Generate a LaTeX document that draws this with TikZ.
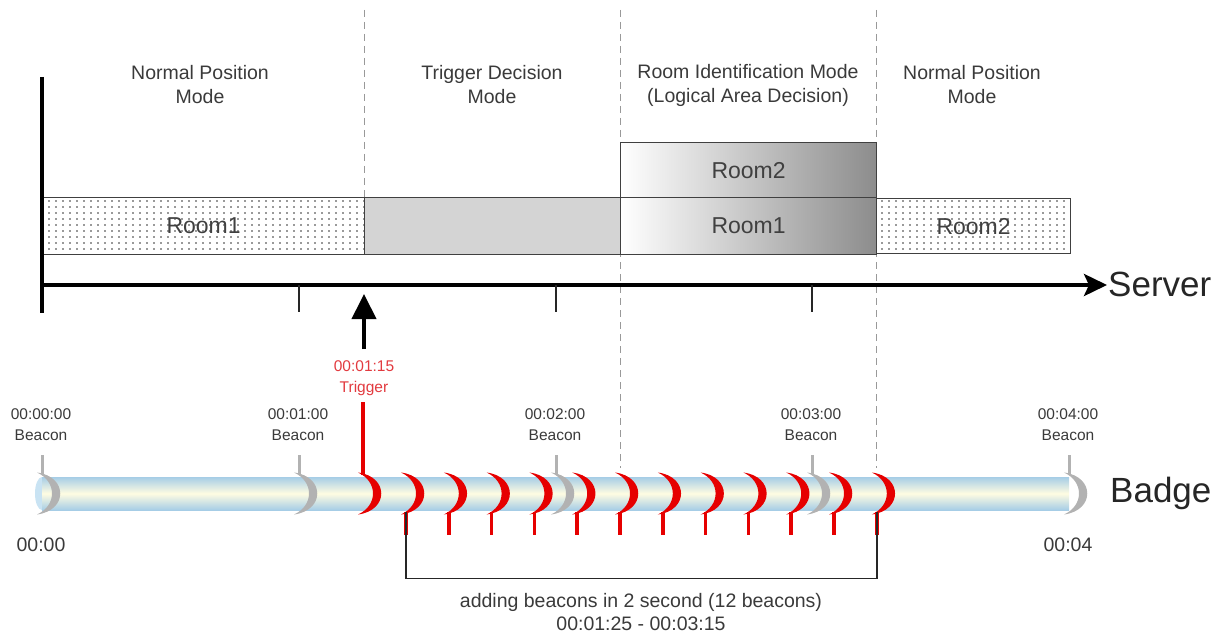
\documentclass[tikz,border=0pt]{standalone}
\usepackage{fontspec}
\setmainfont{Liberation Sans}
\usetikzlibrary{arrows.meta,patterns.meta}

\definecolor{txtgray}{HTML}{3A3A3A}
\definecolor{beaconred}{HTML}{E60000}
\definecolor{triggerred}{HTML}{E23A3F}
\definecolor{beacongray}{HTML}{B2B2B2}
\definecolor{tubeblue}{HTML}{A6CDE6}
\definecolor{tubecream}{HTML}{FFFCE2}
\definecolor{tubeend}{HTML}{C9E3F3}
\definecolor{boxline}{HTML}{404040}

% sparse dot screen used for the normal-position room bars
\tikzdeclarepattern{
  name=roomdots,
  type=uncolored,
  bottom left={(-1.2pt,-1.2pt)},
  top right={(1.2pt,1.2pt)},
  tile size={(7pt,6pt)},
  code={\fill (0pt,0pt) circle (0.95pt);}
}

\tikzset{
  modelabel/.style={align=center, text=txtgray, inner sep=0pt,
    font=\fontsize{19.5}{24}\selectfont},
  beaconlabel/.style={align=center, text=txtgray, inner sep=0pt,
    font=\fontsize{15.5}{21}\selectfont},
  triglabel/.style={align=center, text=triggerred, inner sep=0pt,
    font=\fontsize{15.5}{21}\selectfont},
  timelabel/.style={text=txtgray, inner sep=0pt,
    font=\fontsize{19.5}{24}\selectfont},
  notelabel/.style={align=center, text=txtgray, inner sep=0pt,
    font=\fontsize{19.5}{23}\selectfont},
  axislabel/.style={text=black!85, inner sep=1pt, anchor=west,
    font=\fontsize{35}{40}\selectfont},
  roomtext/.style={text=black!75, font=\fontsize{23}{26}\selectfont},
  dotroom/.style={roomtext, anchor=north west, draw=boxline, line width=1.2pt,
    pattern=roomdots, pattern color=black!80, inner sep=0pt},
  graybar/.style={anchor=north west, draw=boxline, line width=1.2pt,
    fill=black!17, inner sep=0pt},
  shaderoom/.style={roomtext, anchor=north west, draw=boxline, line width=1.2pt,
    left color=white, middle color=black!10, right color=black!45, inner sep=0pt},
  phase/.style={draw=black!40, line width=0.8pt, dash pattern=on 7pt off 5pt},
  tickmark/.style={draw=black!85, line width=1.5pt},
  graystem/.style={draw=beacongray, line width=3pt},
  redstem/.style={draw=beaconred, line width=3.5pt},
  bracket/.style={draw=black!85, line width=1.5pt},
  crescent/.pic={
    \fill (-5,-21) .. controls (26,-17) and (26,17) .. (-5,21)
          .. controls (15,12) and (15,-12) .. (-5,-21) -- cycle;
  }
}

\begin{document}
\begin{tikzpicture}[x=1pt,y=-1pt]
\useasboundingbox (0,0) rectangle (1230,639);

% ---- phase separators ----
\coordinate (sepAtop) at (364,10);  \coordinate (sepAbot) at (364,197);
\coordinate (sepBtop) at (620,10);  \coordinate (sepBbot) at (620,468);
\coordinate (sepCtop) at (876,10);  \coordinate (sepCbot) at (876,468);
\draw[phase] (sepAtop) -- (sepAbot);
\draw[phase] (sepBtop) -- (sepBbot);
\draw[phase] (sepCtop) -- (sepCbot);

% ---- mode headings ----
\node[modelabel] (modeA) at (200,85)  {Normal Position\\Mode};
\node[modelabel] (modeB) at (492,85)  {Trigger Decision\\Mode};
\node[modelabel] (modeC) at (748,85)  {Room Identification Mode\\(Logical Area Decision)};
\node[modelabel] (modeD) at (972,85)  {Normal Position\\Mode};

% ---- server-side room decisions ----
\node[dotroom, minimum width=322pt, minimum height=57pt] (roomA) at (42,197) {Room1};
\node[graybar, minimum width=256pt, minimum height=57pt] (decide) at (364,197) {};
\node[shaderoom, minimum width=256pt, minimum height=55pt] (idRoomB) at (620,142) {Room2};
\node[shaderoom, minimum width=256pt, minimum height=57pt] (idRoomA) at (620,197) {Room1};
\node[dotroom, minimum width=194pt, minimum height=55pt] (roomB) at (876,198) {Room2};

% ---- server time axis ----
\coordinate (vtop) at (42,77); \coordinate (vbot) at (42,313);
\draw[line width=3.5pt] (vtop) -- (vbot);
\node[axislabel] (server) at (1107,284) {Server};
\coordinate (axis0) at (40.25,285);
\draw[line width=4pt, -{Stealth[length=23pt,width=22pt,inset=5pt]}] (axis0) -- (server.west |- axis0);
\foreach \x [count=\k] in {299,556,812} {
  \coordinate (tk\k) at (\x,285);
  \draw[tickmark] (tk\k) -- ++(0,27);
}

% ---- trigger notification ----
\coordinate (trigtail) at (364,349);
\coordinate (trighead) at (364,294);
\draw[line width=4pt, -{Triangle[length=25pt,width=24pt]}] (trigtail) -- (trighead);
\node[triglabel] (triglbl) at (364,378) {00:01:15\\Trigger};

% ---- badge timeline tube ----
\fill[tubeend] (42,493.5) ellipse [x radius=7, y radius=16.5];
\shade[top color=tubeblue, bottom color=tubeblue, middle color=tubecream]
  (42,477) rectangle (1069,510);

% regular beacons every minute
\foreach \x/\t [count=\k] in {42/00:00:00, 299/00:01:00, 556/00:02:00, 812/00:03:00, 1069/00:04:00} {
  \coordinate (g\k) at (\x,493.5);
  \draw[graystem] (\x,455) -- (\x,475);
  \pic[beacongray] at (g\k) {crescent};
  \node[beaconlabel] (gl\k) at (\x-1,425) {\t\\Beacon};
}

% trigger beacon
\coordinate (tb) at (363,493.5);
\draw[redstem] (363,402) -- (363,475);
\pic[beaconred] at (tb) {crescent};

% added beacons
\foreach \k in {0,...,11} {
  \pgfmathsetmacro\x{406+42.8*\k}
  \coordinate (r\k) at (\x,493.5);
  \pic[beaconred] at (r\k) {crescent};
  \draw[redstem] (\x,512) -- (\x,535);
}

% span of added beacons
\draw[bracket] ([yshift=-18pt]r0) |- ([yshift=-85pt]r11) -- ([yshift=-18pt]r11);
\node[notelabel] (note) at (641,612) {adding beacons in 2 second (12 beacons)\\00:01:25 - 00:03:15};

\node[axislabel] (badge) at (1109,493) {Badge};
\node[timelabel] (tstart) at (41,545) {00:00};
\node[timelabel] (tend) at (1068,545) {00:04};
\end{tikzpicture}
\end{document}
